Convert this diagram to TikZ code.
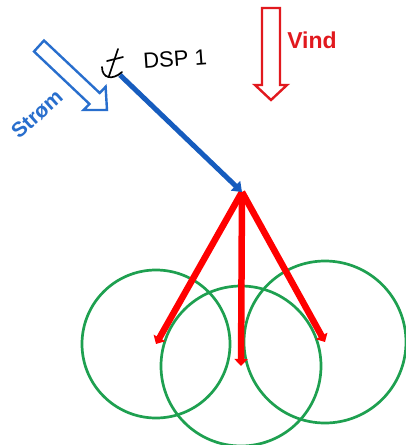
\documentclass[tikz,border=0pt]{standalone}
\usepackage{fontspec}
\setmainfont{Liberation Sans}
\usetikzlibrary{arrows.meta}
\definecolor{lineblue}{RGB}{22,92,190}
\definecolor{flowblue}{RGB}{40,110,205}
\definecolor{windred}{RGB}{225,25,30}
\definecolor{ringgreen}{RGB}{30,160,80}
\begin{document}
\begin{tikzpicture}[x=1pt, y=-1pt,
	redarrow/.style = {line width=6.5pt, red, -{Triangle[length=7pt, width=13pt]}},
	ring/.style = {line width=2.7pt, ringgreen},
	hollow/.style = {line width=2.4pt, line join=miter}]
	\useasboundingbox (0,0) rectangle (406,445);
	% buoy circles
	\coordinate (left) at (156,344);
	\coordinate (mid) at (241,366);
	\coordinate (right) at (325,342);
	\draw [ring] (left) circle (74);
	\draw [ring] (mid) circle (80);
	\draw [ring] (right) circle (81);
	% lines from the hub
	\coordinate (hub) at (242,192);
	\draw [redarrow] (hub) -- (left);
	\draw [redarrow] (hub) -- (mid);
	\draw [redarrow] (hub) -- (right);
	\coordinate (anchor) at (120,75);
	\draw [line width=5pt, lineblue, -{Triangle[length=9pt, width=13pt]}] (anchor) -- (hub);
	% anchor symbol
	\draw [line width=1.7pt, line cap=round] (118,49) -- (109,76);
	\draw [line width=1.7pt, line cap=round] (107,61) -- (123,57);
	\draw [line width=1.7pt, line cap=round] (102,67) .. controls (102,78) and (112,81) .. (122,72);
	\node [font=\fontsize{22}{22}\selectfont, rotate=4] (dsp) at (175,59) {DSP 1};
	% current and wind
	\draw [hollow, flowblue] (34,51.5) -- (89.5,104) -- (83.6,110) -- (107,110) -- (105.6,86.8) -- (99.7,93) -- (44,40.5) -- cycle;
	\node [font=\bfseries\fontsize{21}{21}\selectfont, flowblue, rotate=42] (strom) at (37,114) {Strøm};
	\draw [hollow, windred] (262,8) -- (262,85) -- (255,85) -- (271,100) -- (287,85) -- (280,85) -- (280,8) -- cycle;
	\node [font=\bfseries\fontsize{23}{23}\selectfont, windred] (vind) at (312,40) {Vind};
\end{tikzpicture}
\end{document}
